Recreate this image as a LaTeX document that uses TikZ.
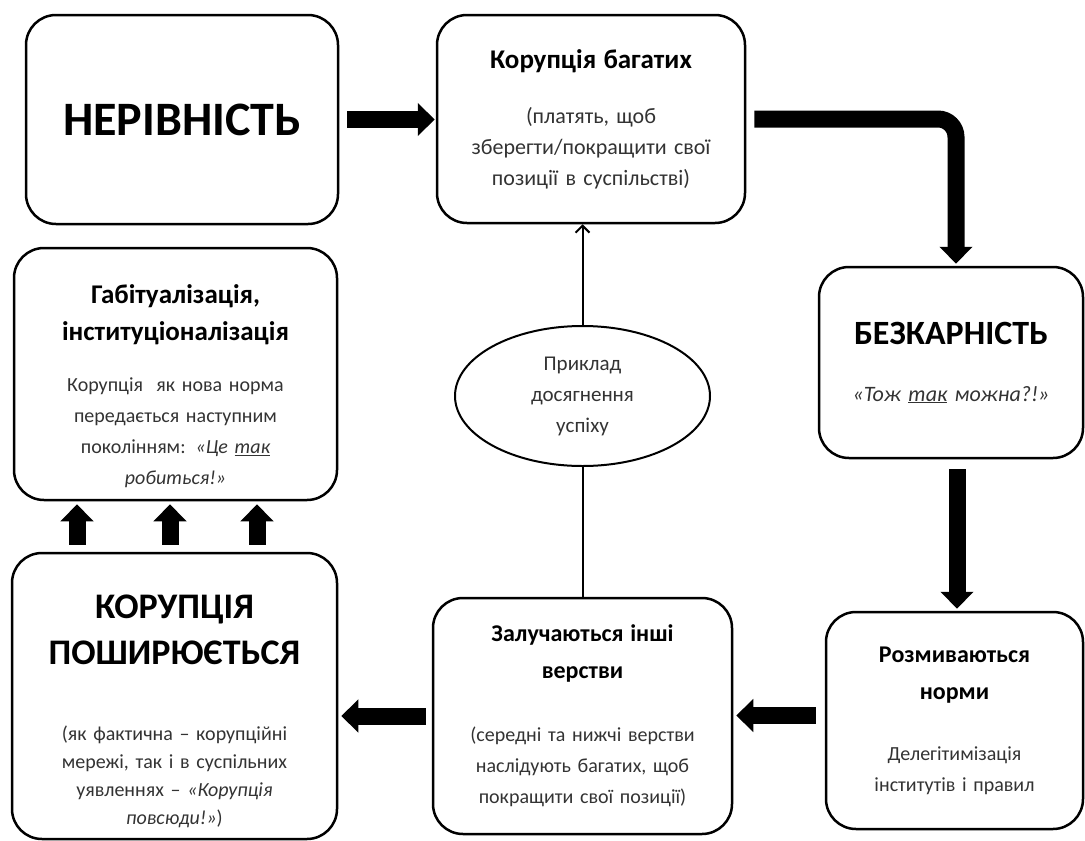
\documentclass[tikz,border=0pt]{standalone}
\usepackage{fontspec}
\setmainfont{Carlito}
\usetikzlibrary{arrows.meta,shapes.geometric}

\tikzset{
  box/.style={draw, line width=2.5pt, rounded corners=30pt, inner sep=0pt,
    align=center, text=black!80, font=\fontsize{20}{31}\selectfont},
  bigarrow/.style={line width=17pt, -{Triangle[width=32pt,length=17pt]}},
  thinline/.style={line width=2pt},
}
\newcommand{\ttl}[1][24]{\fontsize{#1}{37}\selectfont\bfseries\color{black}}
\newcommand{\bigttl}[1][36]{\fontsize{#1}{46}\selectfont\bfseries\color{black}}

\begin{document}
\begin{tikzpicture}[x=1pt,y=-1pt]
  \useasboundingbox (0,0) rectangle (1085,841);

  %Boxes
  \node[box, minimum width=312pt, minimum height=209pt, text width=300pt] (ineq) at (182,119.5)
    {{\bigttl[48] НЕРІВНІСТЬ\par}};
  \node[box, minimum width=308pt, minimum height=208pt, text width=295pt,
    font=\fontsize{22}{31}\selectfont] (rich) at (591,119)
    {{\ttl[27] Корупція багатих\par}\vspace{24pt}
     (платять, щоб\\зберегти/покращити свої\\позиції в суспільстві)};
  \node[box, minimum width=264pt, minimum height=191pt, text width=255pt,
    font=\fontsize{22}{31}\selectfont] (impun) at (951,362.5)
    {{\bigttl[34] БЕЗКАРНІСТЬ\par}\vspace{26pt}
     \textit{«Тож \underline{так} можна?!»}};
  \node[box, minimum width=257pt, minimum height=217pt, text width=240pt] (norms) at (954.5,720.5)
    {{\ttl Розмиваються\\норми\par}\vspace{30pt}
     Делегітимізація\\інститутів і правил};
  \node[box, minimum width=299pt, minimum height=236pt, text width=285pt] (strata) at (582.5,716)
    {{\ttl Залучаються інші\\верстви\par}\vspace{32pt}
     (середні та нижчі верстви\\наслідують багатих, щоб\\покращити свої позиції)};
  \node[box, minimum width=325pt, minimum height=286pt, text width=310pt] (spreads) at (174.5,696)
    {{\bigttl\rule{0pt}{55pt}КОРУПЦІЯ\\ПОШИРЮЄТЬСЯ\par}\vspace{48pt}
     {\baselineskip=28pt (як фактична – корупційні\\мережі, так і в суспільних\\уявленнях – \textit{«Корупція}\\\textit{повсюди!»})\par}};
  \node[box, minimum width=323pt, minimum height=252pt, text width=315pt] (habit) at (175.5,374)
    {{\ttl[27]\rule{0pt}{44pt}Габітуалізація,\\інституціоналізація\par}\vspace{20pt}
     Корупція\ \ як нова норма\\передається наступним\\поколінням: \textit{«Це \underline{так}}\\\textit{робиться!»}};

  %Success example
  \draw[thinline] (strata.north) -- ++(0,-200);
  \node[ellipse, draw, thinline, fill=white, minimum width=255pt, minimum height=140pt,
    text width=160pt, align=center, text=black!80, font=\fontsize{21}{31}\selectfont]
    (success) at (582.5,396) {Приклад\\досягнення\\успіху};
  \draw[thinline, -{Straight Barb[length=7pt,width=14pt]}] (success.north) -- (success.north |- rich.south);

  %Arrows
  \draw[bigarrow, shorten <=8pt, shorten >=1pt] (ineq.east) -- (ineq.east -| rich.west);
  \draw[bigarrow, rounded corners=18pt, shorten <=8pt, shorten >=2pt] (rich.east) -| ([xshift=5pt]impun.north);
  \draw[bigarrow, shorten <=10pt, shorten >=2pt] ([xshift=6pt]impun.south) -- ([xshift=6pt]impun.south |- norms.north);
  \draw[bigarrow, shorten <=9pt, shorten >=3pt] ([yshift=5pt]norms.west) -- ([yshift=5pt]norms.west -| strata.east);
  \draw[bigarrow, shorten <=6pt, shorten >=3pt] (strata.west) -- (strata.west -| spreads.east);
  \foreach \x in {77,170,257}
    \draw[bigarrow, shorten <=7pt, shorten >=3pt] (spreads.north -| \x,0) -- (habit.south -| \x,0);
\end{tikzpicture}
\end{document}
